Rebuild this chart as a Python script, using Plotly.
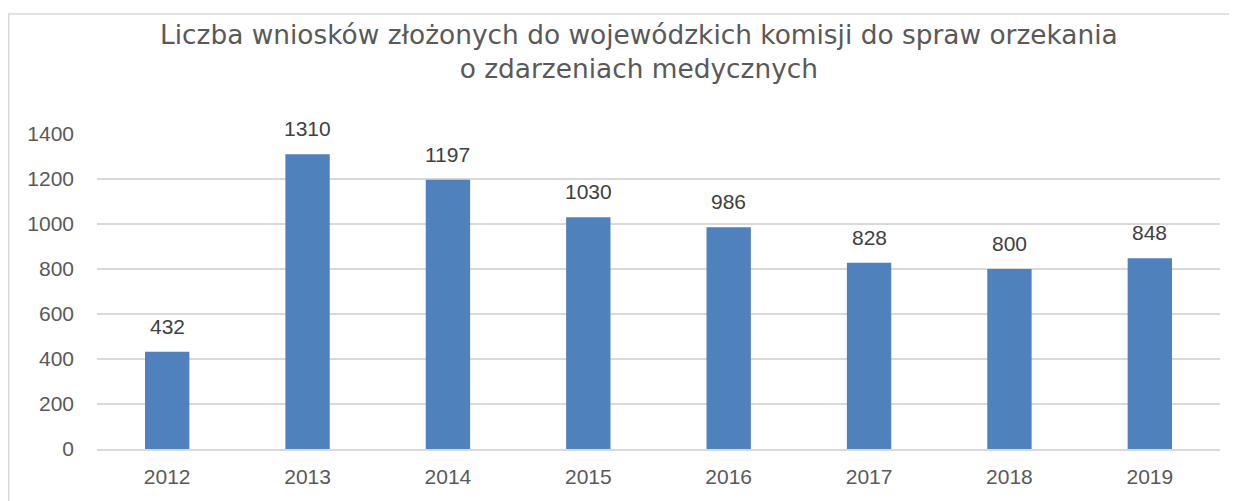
import plotly.graph_objects as go

years = ["2012", "2013", "2014", "2015", "2016", "2017", "2018", "2019"]
applications = [432, 1310, 1197, 1030, 986, 828, 800, 848]
y_ticks = [0, 200, 400, 600, 800, 1000, 1200, 1400]

TITLE = "Liczba wniosków złożonych do wojewódzkich komisji do spraw orzekania<br>o zdarzeniach medycznych"
FONT = "Liberation Sans, Arial, sans-serif"
TEXT_GREY = "#595959"
LABEL_GREY = "#404040"
BAR_BLUE = "#4F81BD"
LINE_GREY = "#D9D9D9"

# the page body adds 8px, so the figure is sized to end at the window edge
W, H = 1229, 493
M = {"l": 89, "r": 17, "t": 126, "b": 52}
PW = W - M["l"] - M["r"]
PH = H - M["t"] - M["b"]


def px_x(x):
    return (x - M["l"]) / PW


def px_y(y):
    return 1 - (y - M["t"]) / PH


fig = go.Figure(
    go.Bar(
        x=years,
        y=applications,
        marker={"color": BAR_BLUE, "line": {"width": 0}},
        hoverinfo="x+y",
    )
)

# value labels above bars (x given as category index)
for i, value in enumerate(applications):
    fig.add_annotation(
        x=i,
        y=value,
        text=str(value),
        showarrow=False,
        xanchor="center",
        yanchor="bottom",
        yshift=12,
        font={"size": 21, "color": LABEL_GREY, "family": FONT},
    )

fig.add_annotation(
    text=TITLE,
    xref="paper",
    yref="paper",
    x=px_x(631),
    y=px_y(43),
    xanchor="center",
    yanchor="middle",
    showarrow=False,
    align="center",
    font={"size": 26.4, "color": TEXT_GREY, "family": "DejaVu Sans, sans-serif"},
)

fig.update_layout(
    width=W,
    height=H,
    margin=M,
    paper_bgcolor="white",
    plot_bgcolor="white",
    bargap=0.684,
    showlegend=False,
    font={"family": FONT, "color": TEXT_GREY},
    shapes=[
        # chart frame, cropped at the right and bottom edges
        {
            "type": "rect",
            "xref": "paper",
            "yref": "paper",
            "x0": px_x(0.75),
            "x1": 1.2,
            "y0": -0.5,
            "y1": px_y(6),
            "line": {"color": LINE_GREY, "width": 1.5},
            "layer": "below",
        }
    ],
)

fig.update_xaxes(
    type="category",
    range=[-0.5, len(years) - 0.5],
    showgrid=False,
    showline=True,
    linecolor=LINE_GREY,
    linewidth=2,
    ticks="",
    tickfont={"size": 21, "color": TEXT_GREY},
    ticklabelstandoff=8,
)
fig.update_yaxes(
    range=[0, 1400],
    tickvals=y_ticks,
    showgrid=True,
    gridcolor=LINE_GREY,
    gridwidth=1.5,
    zeroline=False,
    showline=False,
    ticks="",
    tickfont={"size": 21, "color": TEXT_GREY},
    ticklabelstandoff=22,
)

fig.write_html("out.html")
